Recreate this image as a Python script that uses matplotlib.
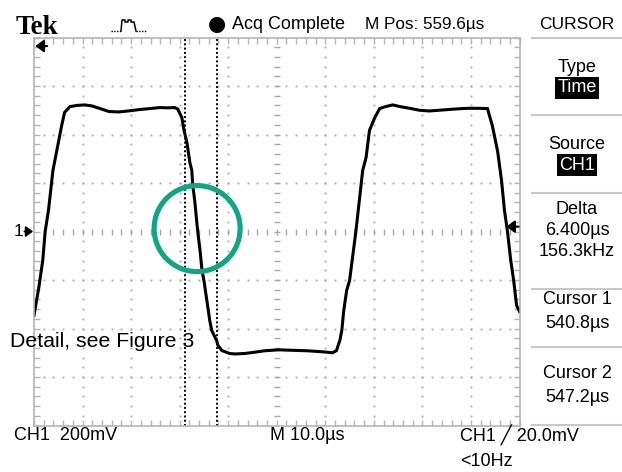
import numpy as np
import matplotlib.pyplot as plt
from matplotlib.patches import Ellipse
from matplotlib.lines import Line2D

# scope settings
M_POS = 559.6          # us, centre of screen
T_DIV = 10.0           # us / div
V_DIV = 200.0          # mV / div
CURSORS = [540.8, 547.2]
TRIG_LEVEL = 20.0      # mV

# CH1 trace, time in us, level in mV
t_us = [509.6, 510.6, 511.4, 511.9, 512.6, 513.5, 514.3, 514.9, 515.3, 515.9,
        517.0, 518.5, 520.0, 521.5, 523.2, 525.0, 527.0, 529.0, 531.4, 533.5,
        535.5, 537.0, 538.6, 539.2, 540.05, 540.5, 541.1, 541.7, 542.1, 542.3,
        542.7, 543.3, 543.8, 544.2, 544.6, 545.2, 545.8, 546.2, 547.2, 547.5,
        548.3, 549.9, 551.0, 553.0, 555.0, 557.0, 560.0, 563.0, 566.0, 569.0,
        571.1, 571.9, 572.6, 573.0, 573.4, 574.0, 574.6, 575.9, 577.3, 578.0,
        578.7, 579.8, 580.8, 582.0, 583.5, 585.0, 587.0, 589.0, 591.0, 593.0,
        595.0, 597.0, 599.0, 601.0, 603.0, 604.0, 605.1, 605.9, 606.5, 607.1,
        607.8, 608.4, 609.0, 609.6]
ch1_mv = [-346, -230, -120, 0, 90, 252, 334, 396, 437, 491,
          515, 520, 522, 518, 507, 495, 493, 497, 503, 507,
          511, 510, 511, 505, 470, 417, 367, 285, 252, 190,
          128, 4, -78, -160, -202, -284, -367, -408, -449, -470,
          -491, -503, -505, -503, -498, -492, -488, -490, -492, -496,
          -500, -491, -449, -408, -326, -243, -202, 0, 252, 305,
          417, 470, 507, 515, 522, 515, 508, 500, 497, 500,
          503, 506, 508, 508, 507, 437, 330, 210, 87, 4,
          -120, -202, -305, -330]

panel_rows = [("Type", 68, False), ("Time", 88, True),
              ("Source", 144, False), ("CH1", 165, True),
              ("Delta", 209, False), ("6.400\u00b5s", 231, False), ("156.3kHz", 251, False),
              ("Cursor 1", 299, False), ("540.8\u00b5s", 323, False),
              ("Cursor 2", 374, False), ("547.2\u00b5s", 398, False)]
panel_lines = [38, 115, 193, 289, 347, 425]

W, H = 622, 472
SCOPE = ['Liberation Sans Narrow', 'Liberation Sans', 'DejaVu Sans']
GRID = '#a8a8a8'

def fx(x):
    return x / W

def fy(y):
    return 1 - y / H

fig = plt.figure(figsize=(W / 100, H / 100), dpi=100)
fig.patch.set_facecolor('white')
ax = fig.add_axes([fx(34), fy(425.5), 485.5 / W, 388 / H])

t0, t1 = M_POS - 5 * T_DIV, M_POS + 5 * T_DIV
v0, v1 = -4 * V_DIV, 4 * V_DIV
ax.set_xlim(t0, t1)
ax.set_ylim(v0, v1)

# graticule
for s in ax.spines.values():
    s.set_color('#b4b4b4')
    s.set_linewidth(1.2)
ax.set_xticks([])
ax.set_yticks([])
ax.set_xticks(np.arange(t0, t1 + 0.01, T_DIV / 5), minor=True)
ax.set_yticks(np.arange(v0, v1 + 0.01, V_DIV / 5), minor=True)
ax.tick_params(which='minor', direction='in', length=4, width=1, color='#b4b4b4',
               top=True, right=True, labelbottom=False, labelleft=False)

dots_v = np.arange(v0 + V_DIV / 5, v1, V_DIV / 5)
dots_t = np.arange(t0 + T_DIV / 5, t1 - 0.01, T_DIV / 5)
for k in range(1, 10):
    tk = t0 + k * T_DIV
    if k == 5:
        ax.plot(np.full_like(dots_v, tk), dots_v, ls='none', marker='_', ms=5, mew=1, color=GRID)
    else:
        ax.plot(np.full_like(dots_v, tk), dots_v, ls='none', marker='s', ms=1.3, mew=0, color=GRID)
for k in range(1, 8):
    vk = v0 + k * V_DIV
    if k == 4:
        ax.plot(dots_t, np.full_like(dots_t, vk), ls='none', marker='|', ms=5, mew=1, color=GRID)
    else:
        ax.plot(dots_t, np.full_like(dots_t, vk), ls='none', marker='s', ms=1.3, mew=0, color=GRID)

# cursors
for c in CURSORS:
    ax.axvline(c, color='black', lw=1.4, ls=(0, (1, 1.2)))

# trace
ax.plot(t_us, ch1_mv, color='black', lw=2.2, solid_joinstyle='miter')

# highlight circle around the falling edge
px_t = T_DIV / (485.5 / 10)
px_v = V_DIV / (388 / 8)
ax.add_patch(Ellipse((543.2, 12), 2 * 43 * px_t, 2 * 43 * px_v, fill=False,
                     edgecolor='#10a583', lw=3.7, zorder=5))

# markers
arrow = dict(arrowstyle='-|>,head_length=0.6,head_width=0.45', color='black', lw=1.6,
             mutation_scale=8, shrinkA=0, shrinkB=0)
ax.annotate('', xy=(0.003, 0.978), xycoords='axes fraction', xytext=(0.027, 0.978),
            arrowprops=arrow)
ax.annotate('', xy=(0.973, TRIG_LEVEL), xycoords=('axes fraction', 'data'),
            xytext=(0.998, TRIG_LEVEL), arrowprops=arrow, annotation_clip=False)
ax.annotate('', xy=(-0.002, 0), xycoords=('axes fraction', 'data'),
            xytext=(-0.02, 0), arrowprops=dict(arrow, lw=1.3, mutation_scale=7),
            annotation_clip=False)
fig.text(fx(14), fy(231.5), '1', fontsize=12.5, family=SCOPE, va='center', ha='left')

fig.text(fx(10), fy(347), 'Detail, see Figure 3', fontsize=15.3,
         family=['Liberation Sans', 'DejaVu Sans'], va='baseline', ha='left')

# top status bar
fig.text(fx(16), fy(34), 'Tek', fontsize=19.5, fontweight='bold',
         family=['Liberation Serif', 'DejaVu Serif'], va='baseline')
fig.add_artist(Line2D([fx(111), fx(121)], [fy(31), fy(31)], color='black', lw=1, ls=(0, (1, 1))))
fig.add_artist(Line2D([fx(136), fx(147)], [fy(31), fy(31)], color='black', lw=1, ls=(0, (1, 1))))
icon_x = [121, 122, 125, 125, 128, 128, 131, 131, 134, 136]
icon_y = [31, 20, 20, 22, 22, 20, 20, 22, 22, 31]
fig.add_artist(Line2D([fx(v) for v in icon_x], [fy(v) for v in icon_y], color='black', lw=1.1))
fig.text(fx(217), fy(24), '\u25cf', fontsize=15, family='DejaVu Sans', va='center', ha='center')
fig.text(fx(232), fy(24.5), 'Acq Complete', fontsize=13, family=SCOPE, va='center')
fig.text(fx(365), fy(24.5), 'M Pos: 559.6\u00b5s', fontsize=12.3, family=SCOPE, va='center')
fig.text(fx(577), fy(24.5), 'CURSOR', fontsize=12.5, family=SCOPE, va='center', ha='center')

# right menu
for y in panel_lines:
    fig.add_artist(Line2D([fx(532), fx(622)], [fy(y), fy(y)], color='#c8c8c8', lw=1.5))
for txt, y, inv in panel_rows:
    if inv:
        fig.text(fx(577), fy(y), txt, fontsize=13, family=SCOPE, va='center', ha='center',
                 color='white', bbox=dict(facecolor='black', edgecolor='none', pad=1.5))
    else:
        fig.text(fx(577), fy(y), txt, fontsize=13, family=SCOPE, va='center', ha='center')

# bottom status
fig.text(fx(14), fy(435.5), 'CH1  200mV', fontsize=13, family=SCOPE, va='center')
fig.text(fx(270), fy(435.5), 'M 10.0\u00b5s', fontsize=13, family=SCOPE, va='center')
fig.text(fx(460), fy(435.5), 'CH1 \u2571 20.0mV', fontsize=13, family=SCOPE, va='center')
fig.text(fx(460), fy(462), '<10Hz', fontsize=13, family=SCOPE, va='center')

fig.savefig('out.png', dpi=100, facecolor='white')
